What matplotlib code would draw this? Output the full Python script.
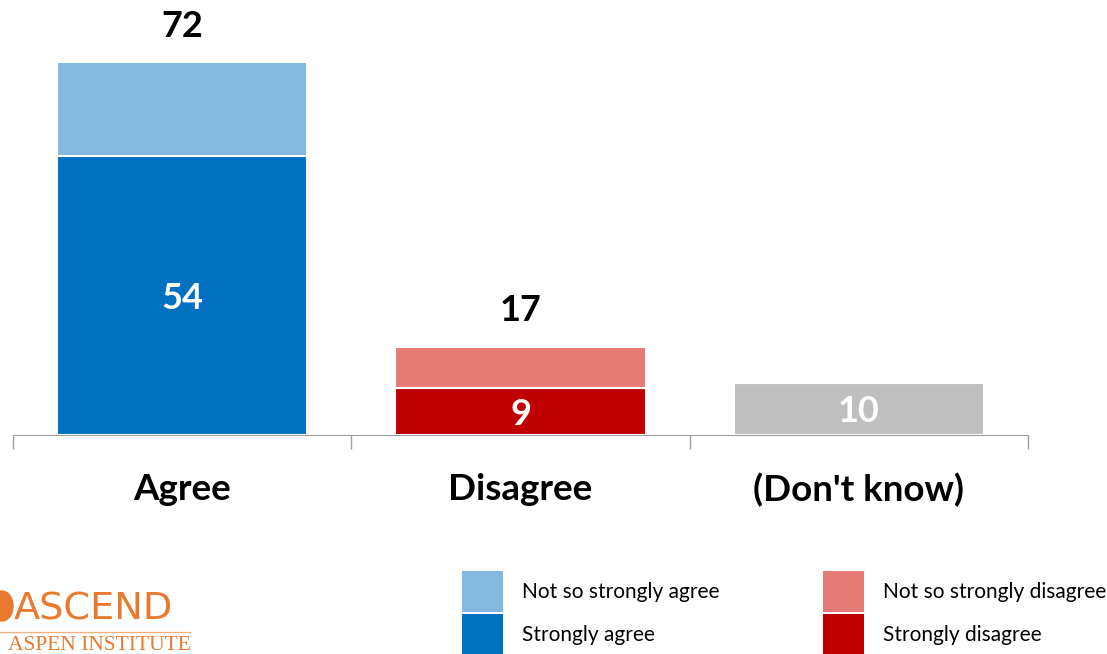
import matplotlib.pyplot as plt
from matplotlib.patches import Ellipse, Rectangle

plt.rcParams['font.family'] = ['Lato', 'DejaVu Sans']

# Survey results (percent)
categories = ["Agree", "Disagree", "(Don't know)"]
strong = [54, 9, 10]
not_so = [18, 8, 0]
totals = [72, 17, None]

dark_colors = ['#0070C0', '#C00000', '#BFBFBF']
light_colors = ['#83B8E0', '#E67A77', '#BFBFBF']

W, H = 1107, 654
fig = plt.figure(figsize=(W / 100, H / 100), dpi=100)
ax = fig.add_axes([13 / W, 219 / H, 1015 / W, 414 / H])

x = range(len(categories))
bars_strong = ax.bar(x, strong, width=0.74, color=dark_colors,
                     edgecolor='white', linewidth=1.5)
bars_not = ax.bar(x, not_so, width=0.74, bottom=strong, color=light_colors,
                  edgecolor='white', linewidth=1.5)

# values inside the dark segments
for i, v in enumerate(strong):
    ax.annotate(str(v), (i, v / 2), xytext=(0, -2), textcoords='offset points',
                ha='center', va='center', color='white',
                fontsize=26, fontweight='bold')

# totals above the stacks
for i, t in enumerate(totals):
    if t is None:
        continue
    ax.annotate(str(t), (i, t), xytext=(0, 26), textcoords='offset points',
                ha='center', va='center', fontsize=26, fontweight='bold')

ax.set_xlim(-0.5, 2.5)
ax.set_ylim(0, 80)
ax.set_xticks(list(x))
ax.set_xticklabels(categories, fontsize=26.5, fontweight='bold')
ax.set_xticks([-0.5, 0.5, 1.5, 2.5], minor=True)
ax.tick_params(axis='x', which='major', length=0, pad=27)
ax.tick_params(axis='x', which='minor', length=10, color='#A0A0A0', width=1)
ax.set_yticks([])
for s in ['top', 'right', 'left']:
    ax.spines[s].set_visible(False)
ax.spines['bottom'].set_color('#A0A0A0')

# legend: two columns of stacked swatches
legend_items = [
    (462, 571, light_colors[0], 'Not so strongly agree'),
    (462, 614, dark_colors[0], 'Strongly agree'),
    (823, 571, light_colors[1], 'Not so strongly disagree'),
    (823, 614, dark_colors[1], 'Strongly disagree'),
]
for lx, ly, col, lab in legend_items:
    fig.add_artist(Rectangle((lx / W, 1 - (ly + 41) / H), 41 / W, 41 / H,
                             facecolor=col, edgecolor='none',
                             transform=fig.transFigure))
    fig.text((lx + 60) / W, 1 - (ly + 21) / H, lab, fontsize=15,
             ha='left', va='center')

# logo
orange = '#E8792E'
fig.text(14 / W, 1 - 609 / H, 'ASCEND', color=orange, fontsize=27.5,
         family='Liberation Sans Narrow', va='center', ha='left')
fig.text(8 / W, 1 - 645 / H, 'ASPEN INSTITUTE', color=orange,
         fontsize=15.5, family='Liberation Serif', va='center', ha='left')
fig.add_artist(plt.Line2D([0, 190 / W], [1 - 632 / H] * 2,
                          color='#F0B080', linewidth=1))
fig.add_artist(Ellipse((2 / W, 1 - 606 / H), 22 / W, 30 / H,
                       color=orange, transform=fig.transFigure))

fig.savefig('out.png', dpi=100)
